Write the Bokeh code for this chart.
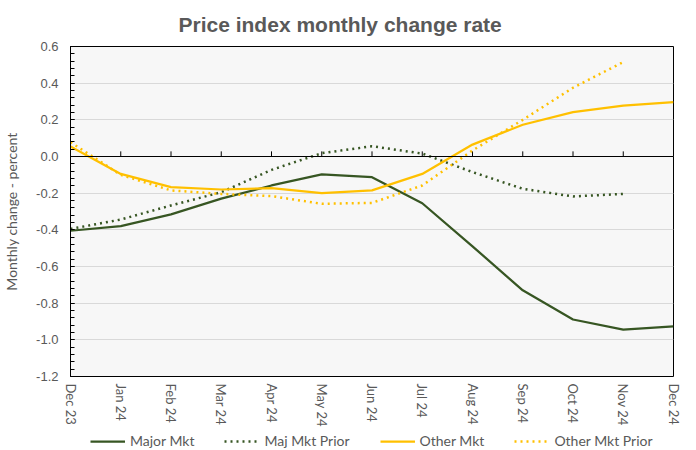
import math
from bokeh.plotting import figure
from bokeh.layouts import column
from bokeh.models import (Range1d, FixedTicker, Span, Legend, LegendItem,
                          NumeralTickFormatter)
from bokeh.embed import file_html
from bokeh.resources import INLINE

months = ["Dec 23", "Jan 24", "Feb 24", "Mar 24", "Apr 24", "May 24", "Jun 24",
          "Jul 24", "Aug 24", "Sep 24", "Oct 24", "Nov 24", "Dec 24"]
major_mkt = [-0.405, -0.38, -0.316, -0.23, -0.158, -0.097, -0.113, -0.255,
             -0.49, -0.73, -0.889, -0.944, -0.926]
maj_mkt_prior = [-0.395, -0.344, -0.267, -0.195, -0.073, 0.018, 0.056, 0.016,
                 -0.085, -0.176, -0.218, -0.204]
other_mkt = [0.055, -0.095, -0.167, -0.18, -0.173, -0.2, -0.185, -0.095,
             0.065, 0.173, 0.242, 0.278, 0.296]
other_mkt_prior = [0.078, -0.1, -0.185, -0.204, -0.216, -0.258, -0.253, -0.158,
                   0.033, 0.2, 0.375, 0.515]
series_names = ["Major Mkt", "Maj Mkt Prior", "Other Mkt", "Other Mkt Prior"]
y_ticks = [-1.2, -1.0, -0.8, -0.6, -0.4, -0.2, 0.0, 0.2, 0.4, 0.6]
y_minor = [round(-1.2 + 0.04 * i, 2) for i in range(46)]

x_idx = list(range(len(months)))
series = [major_mkt, maj_mkt_prior, other_mkt, other_mkt_prior]

GREEN = "#375623"
GOLD = "#FFC000"
TXT = "#595959"
styles = [dict(line_color=GREEN, line_width=2.25),
          dict(line_color=GREEN, line_width=2.5, line_dash="2 4"),
          dict(line_color=GOLD, line_width=2.25),
          dict(line_color=GOLD, line_width=2.5, line_dash="2 4")]

p = figure(frame_width=603, frame_height=330,
           x_range=Range1d(0, len(months) - 1), y_range=Range1d(-1.2, 0.6),
           output_backend="svg", toolbar_location=None,
           min_border_left=70, min_border_right=23, min_border_top=46,
           min_border_bottom=50,
           background_fill_color="#f7f7f7", border_fill_color="white",
           outline_line_color="black", outline_line_width=1)

p.title.text = "Price index monthly change rate"
p.title.align = "left"
p.title.offset = 108
p.title.text_font = "Liberation Sans"
p.title.text_font_size = "21px"
p.title.text_font_style = "bold"
p.title.text_color = TXT
p.title.standoff = 21

# x axis
xa = p.xaxis[0]
xa.ticker = FixedTicker(ticks=x_idx)
xa.major_label_overrides = {i: m for i, m in enumerate(months)}
xa.major_label_orientation = "vertical"
xa.axis_line_color = None
xa.major_tick_line_color = None
xa.minor_tick_line_color = None
xa.major_tick_out = 0
xa.major_tick_in = 0
xa.minor_tick_out = 0
xa.major_label_standoff = 7
xa.major_label_text_font = "Lato"
xa.major_label_text_font_size = "13px"
xa.major_label_text_color = TXT

# y axis
ya = p.yaxis[0]
ya.ticker = FixedTicker(ticks=y_ticks, minor_ticks=y_minor)
ya.formatter = NumeralTickFormatter(format="0.0")
ya.major_tick_in = 4
ya.major_tick_out = 0
ya.minor_tick_in = 4
ya.minor_tick_out = 0
ya.axis_line_color = "black"
ya.major_tick_line_color = "black"
ya.minor_tick_line_color = "black"
ya.major_label_standoff = 12
ya.major_label_text_font = "Liberation Sans"
ya.major_label_text_font_size = "13px"
ya.major_label_text_color = TXT
ya.axis_label = "Monthly change - percent"
ya.axis_label_text_font = "Lato"
ya.axis_label_text_font_size = "14px"
ya.axis_label_text_font_style = "normal"
ya.axis_label_text_color = TXT
ya.axis_label_standoff = 13

p.xgrid.visible = False
p.ygrid.ticker = FixedTicker(ticks=y_ticks)
p.ygrid.grid_line_color = "#d9d9d9"
p.ygrid.grid_line_width = 1

# zero line with tick marks
p.add_layout(Span(location=0, dimension="width", line_color="black", line_width=1))
p.segment(x0=x_idx, y0=[0] * len(x_idx), x1=x_idx, y1=[0.028] * len(x_idx),
          line_color="black", line_width=1)

for vals, st in zip(series, styles):
    p.line(x_idx[:len(vals)], vals, **st)

# legend strip below the chart (same series, drawn outside its visible range)
lg = figure(width=696, height=24, x_range=Range1d(0, 1), y_range=Range1d(10, 11),
            output_backend="svg", toolbar_location=None,
            x_axis_location=None, y_axis_location=None, min_border=0,
            outline_line_color=None, background_fill_color="white",
            border_fill_color="white")
lg.grid.visible = False
items = []
for name, vals, st in zip(series_names, series, styles):
    r = lg.line(x_idx[:len(vals)], vals, **st)
    items.append(LegendItem(label=name, renderers=[r]))
legend = Legend(items=items, orientation="horizontal", location=(20, 4),
                glyph_width=35, glyph_height=14, label_height=14,
                label_standoff=5, spacing=30, padding=0, margin=0,
                border_line_color=None, background_fill_alpha=0,
                label_text_font="Lato", label_text_font_size="14px",
                label_text_color=TXT)
lg.add_layout(legend, "center")

layout = column(p, lg, spacing=0)
open("out.html", "w").write(file_html(layout, INLINE))
